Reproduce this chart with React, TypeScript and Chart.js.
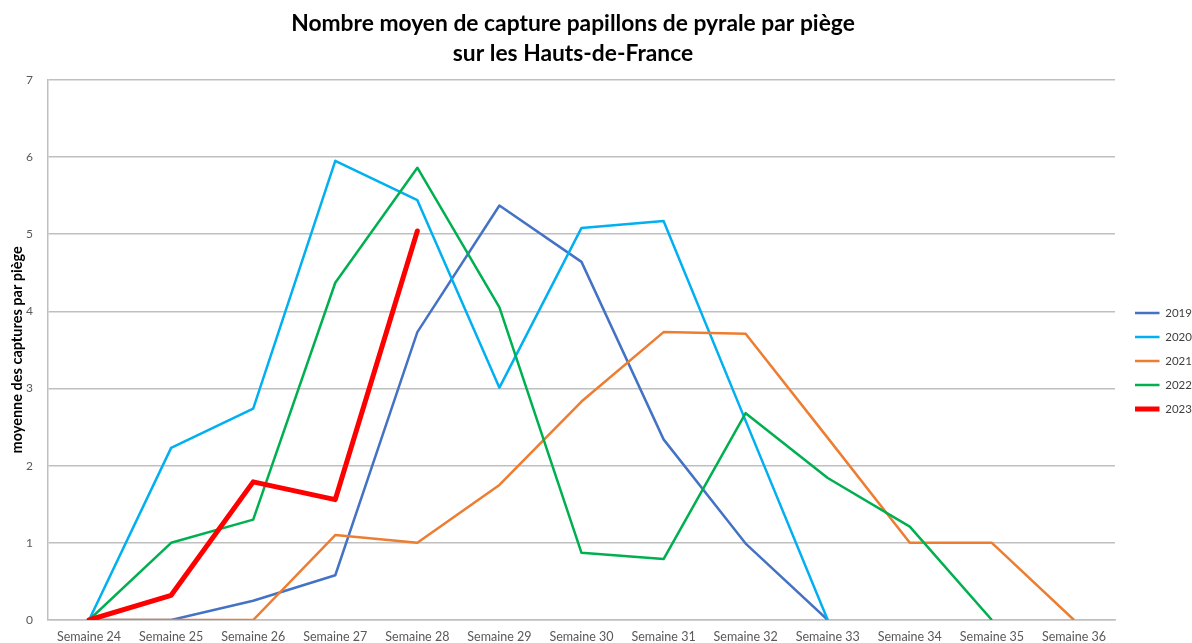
import { useEffect, useRef } from "react";
import { Chart, registerables } from "chart.js";

Chart.register(...registerables);

const weeks = [
  "Semaine 24", "Semaine 25", "Semaine 26", "Semaine 27", "Semaine 28",
  "Semaine 29", "Semaine 30", "Semaine 31", "Semaine 32", "Semaine 33",
  "Semaine 34", "Semaine 35", "Semaine 36",
];
const years = ["2019", "2020", "2021", "2022", "2023"];
const s2019 = [0, 0, 0.25, 0.58, 3.73, 5.37, 4.64, 2.34, 0.99, 0, null, null, null];
const s2020 = [0, 2.23, 2.74, 5.95, 5.44, 3.01, 5.08, 5.17, 2.58, 0, null, null, null];
const s2021 = [0, 0, 0, 1.1, 1.0, 1.75, 2.83, 3.73, 3.71, 2.36, 1.0, 1.0, 0];
const s2022 = [0, 1.0, 1.3, 4.37, 5.86, 4.05, 0.87, 0.79, 2.68, 1.84, 1.21, 0, null];
const s2023 = [0, 0.32, 1.79, 1.56, 5.04, null, null, null, null, null, null, null, null];
const seriesValues = [s2019, s2020, s2021, s2022, s2023];
const seriesColors = ["#4472C4", "#00B0F0", "#ED7D31", "#00B050", "#FF0000"];
const seriesWidths = [2.5, 2.5, 2.5, 2.5, 5];
const yMin = 0;
const yMax = 7;
const yStep = 1;

const titleLines = [
  "Nombre moyen de capture papillons de pyrale par piège",
  "sur les Hauts-de-France",
];
const yTitle = "moyenne des captures par piège";

const boxShift = {
  id: "boxShift",
  afterLayout(chart: any) {
    const l = chart.legend;
    if (l) {
      l.left += 7.5;
      l.right += 7.5;
      l.top += 39.5;
      l.bottom += 39.5;
    }
    const t = chart.titleBlock;
    if (t) {
      t.left -= 23;
      t.right -= 23;
    }
  },
};

export default function App() {
  const ref = useRef<HTMLCanvasElement | null>(null);

  useEffect(() => {
    if (!ref.current) return;
    const font = "Lato, 'Open Sans', sans-serif";
    const chart = new Chart(ref.current, {
      type: "line",
      data: {
        labels: weeks,
        datasets: years.map((y, i) => ({
          label: y,
          data: seriesValues[i],
          borderColor: seriesColors[i],
          backgroundColor: seriesColors[i],
          borderWidth: seriesWidths[i],
          pointRadius: 0,
          pointHoverRadius: 0,
          tension: 0,
          fill: false,
          spanGaps: false,
          order: years.length - i,
          borderCapStyle: i === 4 ? "round" : "butt",
          borderJoinStyle: "round",
        })),
      },
      options: {
        animation: false,
        responsive: true,
        maintainAspectRatio: false,
        layout: { padding: 0 },
        plugins: {
          title: {
            display: true,
            text: titleLines,
            color: "#000000",
            font: { family: font, size: 22.8, weight: "bold", lineHeight: 1.31 },
            padding: { top: 9, bottom: 11 },
          },
          legend: {
            display: true,
            position: "right",
            maxWidth: 77,
            labels: {
              usePointStyle: true,
              pointStyle: "line",
              pointStyleWidth: 24.5,
              padding: 12.5,
              color: "#404040",
              font: { family: font, size: 11.5 },
              sort: (a: any, b: any) => a.datasetIndex - b.datasetIndex,
            },
          },
          tooltip: { enabled: false },
        },
        scales: {
          x: {
            offset: true,
            grid: { display: false, drawTicks: false },
            border: { display: true, color: "#BFBFBF", width: 1.5 },
            ticks: {
              color: "#595959",
              font: { family: font, size: 12.5 },
              padding: 9,
              maxRotation: 0,
              autoSkip: false,
            },
            afterFit: (s: any) => {
              s.height = 23;
            },
          },
          y: {
            min: yMin,
            max: yMax,
            grid: { color: "#BFBFBF", lineWidth: 1.5, drawTicks: false },
            border: { display: true, color: "#BFBFBF", width: 1.5 },
            ticks: {
              stepSize: yStep,
              color: "#595959",
              font: { family: font, size: 12 },
              padding: 15,
            },
            title: {
              display: true,
              text: yTitle,
              color: "#000000",
              font: { family: font, size: 14.5, weight: "bold" },
              padding: { top: 9, bottom: 0 },
            },
            afterFit: (s: any) => {
              s.width = 48;
            },
          },
        },
      },
      plugins: [boxShift],
    });
    return () => chart.destroy();
  }, []);

  return (
    <div style={{ position: "fixed", left: 0, top: 0, width: 1192, height: 643, background: "#fff" }}>
      <canvas ref={ref} />
    </div>
  );
}
